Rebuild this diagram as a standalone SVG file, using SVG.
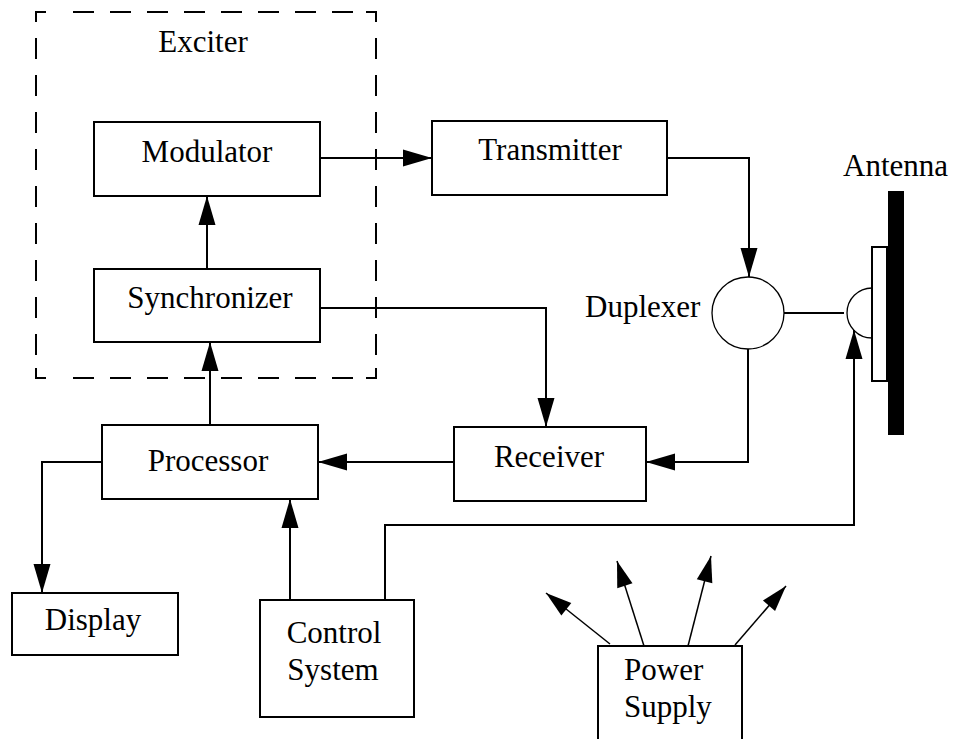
<svg xmlns="http://www.w3.org/2000/svg" width="956" height="739" viewBox="0 0 956 739">
<style>
.box{fill:#fff;stroke:#000;stroke-width:2}
.t{font-family:"Liberation Serif","Times New Roman",serif;font-size:31px;fill:#000}
.m{text-anchor:middle}
.ln{fill:none;stroke:#000;stroke-width:2}
.thin{fill:none;stroke:#000;stroke-width:1.5}
.dash{fill:none;stroke:#000;stroke-width:2;stroke-dasharray:21,16}
</style>
<defs>
<marker id="ah" markerUnits="userSpaceOnUse" markerWidth="29" markerHeight="17" refX="29" refY="8.5" orient="auto" overflow="visible">
<path d="M0,0 L29,8.5 L0,17 z" fill="#000"/>
</marker>
<marker id="ah2" markerUnits="userSpaceOnUse" markerWidth="26" markerHeight="16" refX="26" refY="8" orient="auto" overflow="visible">
<path d="M0,0 L26,8 L0,16 z" fill="#000"/>
</marker>
</defs>
<g id="exciter">
<path class="dash" d="M36,22 L36,12 L46,12"/>
<path class="dash" d="M366,12 L376,12 L376,22"/>
<path class="dash" d="M36,368 L36,378 L46,378"/>
<path class="dash" d="M366,378 L376,378 L376,368"/>
<line class="dash" x1="73" y1="12" x2="356" y2="12"/>
<line class="dash" x1="73" y1="378" x2="356" y2="378"/>
<line class="dash" x1="36" y1="38" x2="36" y2="356"/>
<line class="dash" x1="376" y1="38" x2="376" y2="356"/>
<text class="t m" x="203" y="52">Exciter</text>
</g>
<g id="modulator">
<rect class="box" x="94" y="122" width="226" height="74"/>
<text class="t m" x="207" y="162">Modulator</text>
</g>
<g id="synchronizer">
<rect class="box" x="94" y="269" width="226" height="73"/>
<text class="t m" x="210" y="308">Synchronizer</text>
</g>
<g id="transmitter">
<rect class="box" x="432" y="121" width="235" height="74"/>
<text class="t m" x="550" y="160">Transmitter</text>
</g>
<g id="processor">
<rect class="box" x="102" y="425" width="216" height="74"/>
<text class="t m" x="208" y="471">Processor</text>
</g>
<g id="receiver">
<rect class="box" x="454" y="427" width="192" height="74"/>
<text class="t m" x="549" y="467">Receiver</text>
</g>
<g id="display">
<rect class="box" x="12" y="593" width="166" height="62"/>
<text class="t m" x="93" y="630">Display</text>
</g>
<g id="control-system">
<rect class="box" x="260" y="600" width="154" height="117"/>
<text class="t m" x="334" y="643">Control</text>
<text class="t m" x="333" y="680">System</text>
</g>
<g id="power-supply">
<rect class="box" x="598" y="646" width="144" height="100"/>
<text class="t" x="624" y="680">Power</text>
<text class="t" x="624" y="717">Supply</text>
</g>
<g id="duplexer">
<circle cx="748" cy="313" r="36" fill="#fff" stroke="#000" stroke-width="1.3"/>
<text class="t" x="585" y="317">Duplexer</text>
</g>
<g id="antenna">
<path d="M872,288 A25,25 0 0 0 872,338" fill="none" stroke="#000" stroke-width="1.3"/>
<rect x="872" y="247" width="15" height="134" fill="#fff" stroke="#000" stroke-width="2"/>
<rect x="888" y="191" width="16" height="244" fill="#000"/>
<text class="t" x="843" y="176">Antenna</text>
</g>
<g id="connectors">
<line class="ln" x1="320" y1="158" x2="432" y2="158" marker-end="url(#ah)"/>
<polyline class="ln" points="667,158 749,158 749,277" marker-end="url(#ah)"/>
<line class="ln" x1="207" y1="269" x2="207" y2="196" marker-end="url(#ah)"/>
<line class="ln" x1="210" y1="425" x2="210" y2="342" marker-end="url(#ah)"/>
<polyline class="ln" points="320,308 546,308 546,427" marker-end="url(#ah)"/>
<polyline class="ln" points="748,349 748,462 646,462" marker-end="url(#ah)"/>
<line class="ln" x1="454" y1="462" x2="318" y2="462" marker-end="url(#ah)"/>
<polyline class="ln" points="102,462 42,462 42,593" marker-end="url(#ah)"/>
<line class="ln" x1="290" y1="600" x2="290" y2="499" marker-end="url(#ah)"/>
<polyline class="ln" points="385,600 385,525 854,525 854,330" marker-end="url(#ah)"/>
<line class="ln" x1="784" y1="313" x2="844" y2="313"/>
<line class="thin" x1="610" y1="644" x2="546" y2="593" marker-end="url(#ah2)"/>
<line class="thin" x1="644" y1="646" x2="617" y2="561" marker-end="url(#ah2)"/>
<line class="thin" x1="688" y1="646" x2="711" y2="556" marker-end="url(#ah2)"/>
<line class="thin" x1="735" y1="645" x2="786" y2="586" marker-end="url(#ah2)"/>
</g>
</svg>
